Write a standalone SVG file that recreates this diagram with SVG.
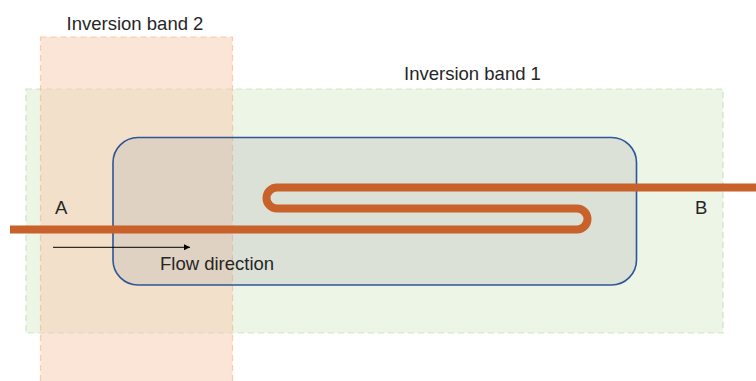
<svg xmlns="http://www.w3.org/2000/svg" width="756" height="381" viewBox="0 0 756 381">
<defs>
<style>
.lbl{font-family:"Liberation Sans",Arial,sans-serif;font-size:18.5px;fill:#262626}
.pipe{fill:none;stroke:#c8612a;stroke-width:8}
</style>
<marker id="ah" viewBox="0 0 10 10" refX="10" refY="5" markerWidth="8" markerHeight="6" markerUnits="userSpaceOnUse" orient="auto">
<path d="M0,0 L10,5 L0,10 Z" fill="#000"/>
</marker>
</defs>
<rect width="756" height="381" fill="#fff"/>
<g id="band1">
<rect x="26" y="89" width="697" height="244" fill="#e2efd9" fill-opacity="0.65" stroke="#c5e0b4" stroke-opacity="0.8" stroke-width="1.2" stroke-dasharray="6,4"/>
<text class="lbl" x="472.5" y="79.5" text-anchor="middle">Inversion band 1</text>
</g>
<g id="band2">
<rect x="40.5" y="37" width="192" height="350" fill="#f8cbad" fill-opacity="0.5" stroke="#f4b183" stroke-opacity="0.6" stroke-width="1.2" stroke-dasharray="6,4"/>
<text class="lbl" x="135" y="30" text-anchor="middle">Inversion band 2</text>
</g>
<g id="pipe-section">
<rect x="113" y="137.5" width="523.5" height="147.5" rx="25" ry="25" fill="#b4b4b4" fill-opacity="0.3" stroke="#2f5597" stroke-width="1.6"/>
</g>
<g id="connectors">
<path class="pipe" d="M10,229.5 H577 A10.5,10.5 0 0 0 577,208.5 H277 A10.5,10.5 0 0 1 277,187.5 H756"/>
<line x1="53" y1="247.3" x2="190" y2="247.3" stroke="#000" stroke-width="1" marker-end="url(#ah)"/>
</g>
<g id="labelA"><text class="lbl" x="55" y="214">A</text></g>
<g id="labelB"><text class="lbl" x="695" y="214">B</text></g>
<g id="flow"><text class="lbl" x="160" y="270">Flow direction</text></g>
</svg>
